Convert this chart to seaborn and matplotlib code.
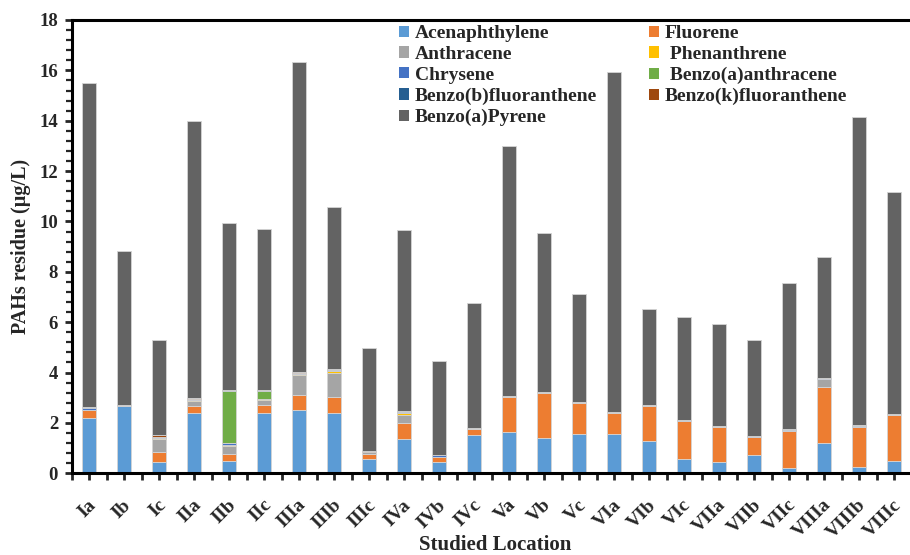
import matplotlib
matplotlib.use("Agg")
import matplotlib.pyplot as plt
import matplotlib.transforms as mtransforms
from matplotlib.ticker import AutoMinorLocator, FixedLocator
from matplotlib.patches import Patch
import numpy as np
import seaborn as sns

locations = ["Ia", "Ib", "Ic", "IIa", "IIb", "IIc", "IIIa", "IIIb", "IIIc",
             "IVa", "IVb", "IVc", "Va", "Vb", "Vc", "VIa", "VIb", "VIc",
             "VIIa", "VIIb", "VIIc", "VIIIa", "VIIIb", "VIIIc"]

acenaphthylene = [2.18, 2.66, 0.44, 2.38, 0.48, 2.38, 2.53, 2.38, 0.56, 1.36, 0.46, 1.53,
                  1.65, 1.41, 1.56, 1.57, 1.29, 0.58, 0.46, 0.71, 0.22, 1.22, 0.25, 0.50]
fluorene = [0.32, 0.00, 0.41, 0.30, 0.27, 0.32, 0.57, 0.64, 0.22, 0.63, 0.18, 0.22,
            1.39, 1.79, 1.24, 0.81, 1.37, 1.49, 1.39, 0.73, 1.45, 2.20, 1.59, 1.80]
anthracene = [0.02, 0.04, 0.50, 0.20, 0.35, 0.21, 0.79, 0.98, 0.05, 0.33, 0.02, 0.03,
              0.04, 0.01, 0.04, 0.04, 0.04, 0.00, 0.02, 0.00, 0.00, 0.31, 0.00, 0.06]
phenanthrene = [0.00, 0.00, 0.06, 0.04, 0.04, 0.03, 0.04, 0.05, 0.03, 0.07, 0.00, 0.00,
                0.00, 0.03, 0.00, 0.00, 0.00, 0.00, 0.00, 0.00, 0.00, 0.00, 0.00, 0.00]
chrysene = [0.08, 0.02, 0.02, 0.02, 0.05, 0.03, 0.05, 0.06, 0.00, 0.05, 0.05, 0.00,
            0.00, 0.00, 0.00, 0.00, 0.00, 0.04, 0.00, 0.04, 0.05, 0.05, 0.04, 0.00]
benzo_a_anthracene = [0.00, 0.00, 0.00, 0.00, 2.09, 0.31, 0.00, 0.00, 0.00, 0.00, 0.00, 0.00,
                      0.00, 0.00, 0.00, 0.00, 0.00, 0.00, 0.00, 0.00, 0.00, 0.00, 0.00, 0.00]
benzo_b_fluoranthene = [0.02, 0.00, 0.03, 0.02, 0.02, 0.01, 0.02, 0.03, 0.00, 0.02, 0.02, 0.00,
                        0.00, 0.00, 0.00, 0.00, 0.00, 0.00, 0.00, 0.00, 0.02, 0.02, 0.02, 0.00]
benzo_k_fluoranthene = [0.00, 0.00, 0.05, 0.03, 0.02, 0.02, 0.02, 0.00, 0.02, 0.02, 0.00, 0.00,
                        0.00, 0.00, 0.00, 0.00, 0.00, 0.00, 0.02, 0.00, 0.00, 0.00, 0.00, 0.00]
benzo_a_pyrene = [12.87, 6.12, 3.78, 11.01, 6.61, 6.38, 12.31, 6.45, 4.11, 7.17, 3.73, 4.97,
                  9.93, 6.29, 4.29, 13.51, 3.81, 4.09, 4.03, 3.81, 5.83, 4.78, 12.25, 8.82]

series_names = ["Acenaphthylene", "Fluorene", "Anthracene", " Phenanthrene", "Chrysene",
                " Benzo(a)anthracene", "Benzo(b)fluoranthene", "Benzo(k)fluoranthene",
                "Benzo(a)Pyrene"]
series_values = [acenaphthylene, fluorene, anthracene, phenanthrene, chrysene,
                 benzo_a_anthracene, benzo_b_fluoranthene, benzo_k_fluoranthene,
                 benzo_a_pyrene]
series_colors = ["#5B9BD5", "#ED7D31", "#A5A5A5", "#FFC000", "#4472C4",
                 "#70AD47", "#255E91", "#9E480E", "#636363"]

sns.set_style("white")
plt.rcParams["font.family"] = ["Liberation Serif", "DejaVu Serif"]
plt.rcParams["font.weight"] = "bold"

fig = plt.figure(figsize=(9.1, 5.55), dpi=100)
ax = fig.add_axes([72 / 910, 1 - 473.3 / 555, 1 - 72 / 910 + 0.002, (473.3 - 20) / 555])

bottom = np.zeros(len(locations))
for name, vals, col in zip(series_names, series_values, series_colors):
    sns.barplot(x=locations, y=vals, bottom=bottom, color=col, width=0.4,
                order=locations, errorbar=None, edgecolor="#d4d4d4", linewidth=0.6,
                ax=ax, saturation=1)
    bottom = bottom + np.array(vals)

ax.set_xlim(-0.5, len(locations) - 0.5)
ax.set_ylim(0, 18)
ax.set_yticks(np.arange(0, 19, 2))
ax.yaxis.set_minor_locator(AutoMinorLocator(5))
ax.xaxis.set_minor_locator(FixedLocator(np.arange(-0.5, len(locations), 1.0)))

for side in ["left", "bottom", "top"]:
    ax.spines[side].set_visible(True)
    ax.spines[side].set_color("black")
    ax.spines[side].set_linewidth(2.2)
ax.spines["right"].set_visible(False)

ax.tick_params(axis="y", which="major", direction="out", length=5, width=2,
               labelsize=13.5, pad=5, left=True)
ax.tick_params(axis="y", which="minor", direction="out", length=4, width=1.6, left=True)
ax.tick_params(axis="x", which="both", direction="out", length=5, width=2, bottom=True)
ax.tick_params(axis="x", which="major", labelsize=14, pad=16)

for lab in ax.get_yticklabels():
    lab.set_fontweight("bold")
ax.set_xticks(range(len(locations)))
ax.set_xticklabels(locations, rotation=45, ha="right", va="center",
                   rotation_mode="anchor", fontweight="bold")
offset = mtransforms.ScaledTranslation(4 / 100, 0, fig.dpi_scale_trans)
for lab in ax.get_xticklabels():
    lab.set_transform(lab.get_transform() + offset)

ax.set_xlabel("")
fig.text(495 / 910, 1 - 545 / 555, "Studied Location", ha="center", va="center",
         fontsize=15, fontweight="bold")
ax.set_ylabel("PAHs residue (\u00b5g/L)", fontsize=14.5, fontweight="bold", labelpad=6)

handles = [Patch(facecolor=c, edgecolor="none") for c in series_colors]
order = [0, 2, 4, 6, 8, 1, 3, 5, 7]
leg = fig.legend([handles[i] for i in order], [series_names[i] for i in order],
                 loc="upper left", bbox_to_anchor=(399 / 910, 1 - 25 / 555),
                 ncol=2, frameon=False, prop={"family": "Liberation Serif",
                                              "weight": "bold", "size": 14},
                 handlelength=0.5, handleheight=0.5, handletextpad=0.3,
                 labelspacing=0.2, columnspacing=2.7, borderaxespad=0, borderpad=0)

fig.savefig("out.png", dpi=100)
